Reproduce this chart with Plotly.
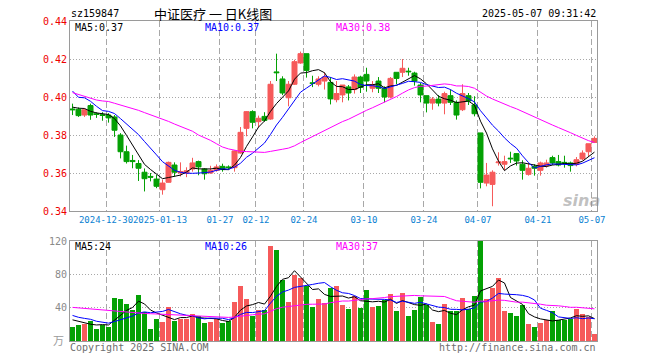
import numpy as np
import pandas as pd
import plotly.graph_objects as go

# ---------------- data ----------------
holidays = ['2025-01-01', '2025-01-28', '2025-01-29', '2025-01-30', '2025-01-31',
            '2025-02-03', '2025-02-04', '2025-04-04', '2025-05-01', '2025-05-02', '2025-05-05']
dates = [d.strftime('%Y-%m-%d') for d in pd.bdate_range('2024-12-20', '2025-05-07')
         if d.strftime('%Y-%m-%d') not in holidays]

open_ = [0.3937, 0.3935, 0.3905, 0.3955, 0.3912, 0.3907, 0.3905, 0.3895, 0.3800, 0.3712,
         0.3666, 0.3650, 0.3604, 0.3582, 0.3568, 0.3512, 0.3551, 0.3642, 0.3600, 0.3600,
         0.3621, 0.3660, 0.3621, 0.3600, 0.3614, 0.3635, 0.3632, 0.3628, 0.3705, 0.3835,
         0.3923, 0.3870, 0.3898, 0.3884, 0.4132, 0.4095, 0.3996, 0.4067, 0.4179, 0.4228,
         0.4075, 0.4067, 0.4084, 0.4077, 0.3986, 0.4011, 0.4053, 0.4039, 0.4105, 0.4119,
         0.4046, 0.4084, 0.4046, 0.4000, 0.4130, 0.4130, 0.4136, 0.4126, 0.4063, 0.4007,
         0.3968, 0.3989, 0.3968, 0.4007, 0.3972, 0.3933, 0.4007, 0.3958, 0.3811, 0.3547,
         0.3540, 0.3654, 0.3646, 0.3678, 0.3702, 0.3646, 0.3593, 0.3635, 0.3614, 0.3639,
         0.3681, 0.3660, 0.3656, 0.3653, 0.3646, 0.3674, 0.3712, 0.3761]
high = [0.3965, 0.3945, 0.3940, 0.3965, 0.3920, 0.3920, 0.3915, 0.3905, 0.3810, 0.3744,
        0.3695, 0.3668, 0.3624, 0.3600, 0.3590, 0.3565, 0.3660, 0.3656, 0.3656, 0.3630,
        0.3680, 0.3665, 0.3625, 0.3638, 0.3645, 0.3649, 0.3640, 0.3718, 0.3842, 0.3926,
        0.3930, 0.3902, 0.3920, 0.4084, 0.4228, 0.4109, 0.4084, 0.4196, 0.4239, 0.4228,
        0.4112, 0.4109, 0.4130, 0.4105, 0.4084, 0.4063, 0.4063, 0.4119, 0.4112, 0.4154,
        0.4084, 0.4105, 0.4056, 0.4105, 0.4130, 0.4200, 0.4154, 0.4133, 0.4074, 0.4007,
        0.4000, 0.4010, 0.4028, 0.4039, 0.3982, 0.4067, 0.4021, 0.4004, 0.3811, 0.3653,
        0.3614, 0.3709, 0.3691, 0.3712, 0.3702, 0.3667, 0.3653, 0.3646, 0.3660, 0.3670,
        0.3691, 0.3695, 0.3691, 0.3660, 0.3684, 0.3719, 0.3754, 0.3793]
low = [0.3905, 0.3895, 0.3895, 0.3880, 0.3890, 0.3875, 0.3865, 0.3790, 0.3677, 0.3650,
       0.3625, 0.3558, 0.3503, 0.3556, 0.3520, 0.3486, 0.3550, 0.3582, 0.3582, 0.3578,
       0.3607, 0.3588, 0.3565, 0.3596, 0.3607, 0.3607, 0.3618, 0.3607, 0.3702, 0.3793,
       0.3835, 0.3839, 0.3870, 0.3880, 0.4084, 0.4010, 0.3951, 0.4063, 0.4175, 0.4102,
       0.4052, 0.4056, 0.4039, 0.3961, 0.3972, 0.3972, 0.3982, 0.4018, 0.4021, 0.4028,
       0.4025, 0.4021, 0.3972, 0.3993, 0.4067, 0.4105, 0.4112, 0.4060, 0.3972, 0.3919,
       0.3933, 0.3951, 0.3909, 0.3958, 0.3881, 0.3926, 0.3958, 0.3898, 0.3519, 0.3530,
       0.3425, 0.3639, 0.3614, 0.3653, 0.3639, 0.3565, 0.3586, 0.3586, 0.3586, 0.3628,
       0.3642, 0.3635, 0.3628, 0.3607, 0.3635, 0.3667, 0.3688, 0.3758]
close = [0.3933, 0.3902, 0.3933, 0.3905, 0.3908, 0.3903, 0.3890, 0.3825, 0.3712, 0.3660,
         0.3660, 0.3625, 0.3570, 0.3578, 0.3530, 0.3547, 0.3656, 0.3604, 0.3608, 0.3612,
         0.3653, 0.3632, 0.3596, 0.3614, 0.3632, 0.3618, 0.3628, 0.3716, 0.3814, 0.3923,
         0.3867, 0.3888, 0.3877, 0.4067, 0.4128, 0.4021, 0.4067, 0.4186, 0.4228, 0.4140,
         0.4071, 0.4095, 0.4105, 0.3990, 0.4018, 0.4063, 0.4021, 0.4105, 0.4050, 0.4084,
         0.4063, 0.4046, 0.4000, 0.4098, 0.4098, 0.4151, 0.4133, 0.4084, 0.4011, 0.3968,
         0.3989, 0.3968, 0.4018, 0.3972, 0.3905, 0.4018, 0.3979, 0.3912, 0.3551, 0.3589,
         0.3604, 0.3658, 0.3660, 0.3675, 0.3663, 0.3614, 0.3625, 0.3625, 0.3653, 0.3653,
         0.3653, 0.3642, 0.3653, 0.3639, 0.3670, 0.3705, 0.3754, 0.3782]
volume = [17.0, 19.4, 21.0, 24.2, 14.5, 19.4, 17.0, 51.7, 50.9, 44.4,
          37.0, 55.0, 35.0, 14.5, 26.7, 22.6, 40.4, 24.2, 26.7, 26.7,
          32.3, 29.9, 21.8, 23.4, 25.9, 21.8, 24.2, 46.9, 66.3, 50.9,
          29.9, 37.2, 37.2, 114.0, 109.0, 72.7, 46.9, 79.2, 76.0, 65.5,
          41.2, 50.9, 46.0, 63.8, 66.3, 42.8, 38.8, 54.1, 39.6, 61.4,
          41.2, 42.0, 49.3, 56.6, 36.4, 58.2, 29.9, 37.2, 52.5, 43.6,
          22.6, 20.2, 44.4, 35.6, 35.6, 51.7, 38.0, 54.1, 121.0, 50.9,
          63.8, 76.0, 36.4, 33.9, 29.9, 43.6, 20.2, 17.0, 21.8, 25.0,
          36.4, 25.0, 25.0, 26.7, 38.8, 32.3, 28.3, 8.1]
# sessions before the window (only used for the moving averages)
pre_close = [0.420, 0.426, 0.418, 0.418, 0.405, 0.398, 0.410, 0.398, 0.396, 0.393,
             0.390, 0.393, 0.391, 0.383, 0.388, 0.408, 0.402, 0.403, 0.391, 0.407,
             0.423, 0.396, 0.409, 0.417, 0.413, 0.393, 0.394, 0.398, 0.395]
pre_volume = [37.4, 39.0, 42.2, 35.5, 43.4, 44.0, 75.7, 68.9, 62.4, 49.0,
              67.0, 44.0, 23.5, 32.7, 34.6, 49.4, 33.2, 38.7, 38.7, 44.3,
              41.9, 33.8, 35.4, 37.9, 30.8, 28.0, 33.0, 30.0, 19.0]

tick_dates = ['2024-12-30', '2025-01-13', '2025-01-27', '2025-02-12', '2025-02-24',
              '2025-03-10', '2025-03-24', '2025-04-07', '2025-04-21', '2025-05-07']
tick_labels = ['2024-12-30', '2025-01-13', '01-27', '02-12', '02-24',
               '03-10', '03-24', '04-07', '04-21', '05-07']
price_ticks = [0.34, 0.36, 0.38, 0.40, 0.42, 0.44]
vol_ticks = [40, 80, 120]
code = 'sz159847'
title = '中证医疗 一 日K线图'
stamp = '2025-05-07 09:31:42'
price_ma_labels = ['MA5:0.37', 'MA10:0.37', 'MA30:0.38']
vol_ma_labels = ['MA5:24', 'MA10:26', 'MA30:37']

# ---------------- derived ----------------
n = len(dates)
x = np.arange(n)
pos = {d: i for i, d in enumerate(dates)}
all_c = pd.Series(pre_close + close)
all_v = pd.Series(pre_volume + volume)
pre = len(pre_close)
ma_p = {w: all_c.rolling(w).mean().values[pre:] for w in (5, 10, 30)}
ma_v = {w: all_v.rolling(w).mean().values[pre:] for w in (5, 10, 30)}

RED = '#F65A5A'
GREEN = '#04A104'
bar_colors = [RED if c > o else GREEN for o, c in zip(open_, close)]
ma_colors = {5: '#000000', 10: '#0000FF', 30: '#FF00FF'}

MONO = 'DejaVu Sans Mono'
FRAME = '#9a9a9a'
GRID = '#a8a8a8'
off = 0.42
xr = [-off, n - 1 + off]
tick_pos = [pos[d] - off for d in tick_dates]

fig = go.Figure()
fig.add_trace(go.Candlestick(
    x=x, open=open_, high=high, low=low, close=close,
    increasing=dict(line=dict(color=RED, width=1), fillcolor=RED),
    decreasing=dict(line=dict(color=GREEN, width=1), fillcolor=GREEN),
    whiskerwidth=0, xaxis='x', yaxis='y', hoverinfo='skip'))
for w in (5, 10, 30):
    fig.add_trace(go.Scatter(x=x, y=ma_p[w], mode='lines',
                             line=dict(color=ma_colors[w], width=1),
                             xaxis='x', yaxis='y', hoverinfo='skip'))
fig.add_trace(go.Bar(x=x, y=volume, marker=dict(color=bar_colors, line=dict(width=0)),
                     width=0.83, xaxis='x2', yaxis='y2', hoverinfo='skip'))
for w in (5, 10, 30):
    fig.add_trace(go.Scatter(x=x, y=ma_v[w], mode='lines',
                             line=dict(color=ma_colors[w], width=1),
                             xaxis='x2', yaxis='y2', hoverinfo='skip'))

L, R, T, B = 70, 63, 21, 19
W, H = 660, 360
PW, PH = W - L - R, H - T - B


def px(xp):
    return (xp - L) / PW


def py(yp):
    return (H - B - yp) / PH


common_x = dict(range=xr, tickvals=tick_pos, tickangle=0, showgrid=True, gridcolor=GRID,
                griddash='6px,3px', gridwidth=1, showline=True, linecolor=FRAME,
                linewidth=1, mirror=True, zeroline=False, ticks='', fixedrange=True)
fig.update_layout(
    width=W, height=H, margin=dict(l=L, r=R, t=T, b=B),
    paper_bgcolor='white', plot_bgcolor='white', showlegend=False,
    boxgap=0.17, boxgroupgap=0, bargap=0,
    xaxis=dict(domain=[0, 1], anchor='y', ticktext=tick_labels,
               tickfont=dict(family=MONO, size=9, color='#0A7FD2'),
               rangeslider=dict(visible=False), **common_x),
    yaxis=dict(domain=[(H - B - 211) / PH, 1], anchor='x', range=[0.34, 0.44],
               tickvals=price_ticks, ticktext=['%.2f' % v for v in price_ticks],
               tickfont=dict(family=MONO, size=10, color='#EE0000'),
               showgrid=True, gridcolor=GRID, griddash='1px,2px', gridwidth=1,
               showline=True, linecolor=FRAME, linewidth=1, mirror=True,
               zeroline=False, ticks='', fixedrange=True),
    xaxis2=dict(domain=[0, 1], anchor='y2', showticklabels=False, **common_x),
    yaxis2=dict(domain=[0, (H - B - 241) / PH], anchor='x2', range=[0, 120],
                tickvals=vol_ticks, ticktext=[str(v) for v in vol_ticks],
                tickfont=dict(family=MONO, size=10, color='#8a8a8a'),
                showgrid=True, gridcolor=GRID, griddash='1px,2px', gridwidth=1,
                showline=True, linecolor=FRAME, linewidth=1, mirror=True,
                zeroline=False, ticks='', fixedrange=True),
)

ann = []


def text(s, xp, yp, color='#000000', size=10, family=MONO, anchor='left', **kw):
    ann.append(dict(text=s, x=px(xp), y=py(yp), xref='paper', yref='paper',
                    xanchor=anchor, yanchor='middle', showarrow=False,
                    font=dict(family=family, size=size, color=color), **kw))


text(code, 69, 13)
text(title, 213, 13, size=13, family='Noto Sans CJK SC', anchor='center')
text(stamp, 598, 13, anchor='right')
for lab, xp, w in zip(price_ma_labels, (73, 203, 334), (5, 10, 30)):
    text(lab, xp, 27, color=ma_colors[w])
for lab, xp, w in zip(vol_ma_labels, (73, 203, 334), (5, 10, 30)):
    text(lab, xp, 246, color=ma_colors[w])
text('万', 58, 340, color='#9a9a9a', size=11, family='Noto Sans CJK SC', anchor='center')
text('Copyright 2025 SINA.COM', 68, 347, color='#6e6e6e')
text('http://finance.sina.com.cn', 598, 347, color='#6e6e6e', anchor='right')
text('<b><i>sina</i></b>', 581, 200, color='rgba(140,140,140,0.55)', size=16,
     family='DejaVu Sans', anchor='center')
fig.update_layout(annotations=ann)

fig.write_html('out.html', config={'displayModeBar': False},
               post_script="document.body.style.margin='0';document.body.style.padding='0';")
